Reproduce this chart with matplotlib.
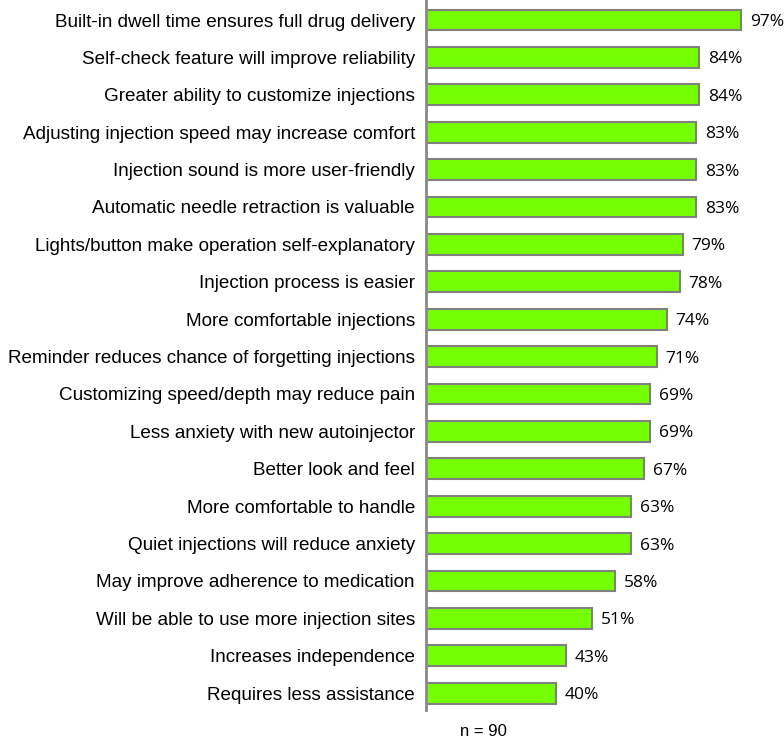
import matplotlib
matplotlib.use("Agg")
import matplotlib.pyplot as plt

categories = [
    "Built-in dwell time ensures full drug delivery",
    "Self-check feature will improve reliability",
    "Greater ability to customize injections",
    "Adjusting injection speed may increase comfort",
    "Injection sound is more user-friendly",
    "Automatic needle retraction is valuable",
    "Lights/button make operation self-explanatory",
    "Injection process is easier",
    "More comfortable injections",
    "Reminder reduces chance of forgetting injections",
    "Customizing speed/depth may reduce pain",
    "Less anxiety with new autoinjector",
    "Better look and feel",
    "More comfortable to handle",
    "Quiet injections will reduce anxiety",
    "May improve adherence to medication",
    "Will be able to use more injection sites",
    "Increases independence",
    "Requires less assistance",
]
values = [97, 84, 84, 83, 83, 83, 79, 78, 74, 71, 69, 69, 67, 63, 63, 58, 51, 43, 40]
note = "n = 90"

W, H = 784, 744
fig = plt.figure(figsize=(W / 100, H / 100), dpi=100)
ax_left, ax_right = 426 / W, 751 / W
ax_bottom, ax_top = 1 - 710 / H, 1.0
ax = fig.add_axes([ax_left, ax_bottom, ax_right - ax_left, ax_top - ax_bottom])

ypos = list(range(len(categories)))
ax.barh(ypos, values, height=0.56, color="#76FF03", edgecolor="#808080", linewidth=1.5, zorder=2)
ax.set_xlim(0, 100)
ax.set_ylim(18.45, -0.535)

ax.set_yticks(ypos)
ax.set_yticklabels(categories, fontsize=13.6, family="Liberation Sans", color="black")
ax.tick_params(axis="y", length=0, pad=8)
ax.set_xticks([])

for s in ["top", "right", "bottom"]:
    ax.spines[s].set_visible(False)
ax.spines["left"].set_color("#8a8a8a")
ax.spines["left"].set_linewidth(2)

for y, v in zip(ypos, values):
    ax.annotate(f"{v}%", xy=(v, y), xytext=(9, 0), textcoords="offset pixels",
                ha="left", va="center_baseline", fontsize=12.5, family="Open Sans", color="black")

fig.text(483 / W, 1 - 732 / H, note, ha="center", va="center", fontsize=12,
         family="Liberation Sans", color="black")

fig.savefig("out.png", dpi=100, facecolor="white")
